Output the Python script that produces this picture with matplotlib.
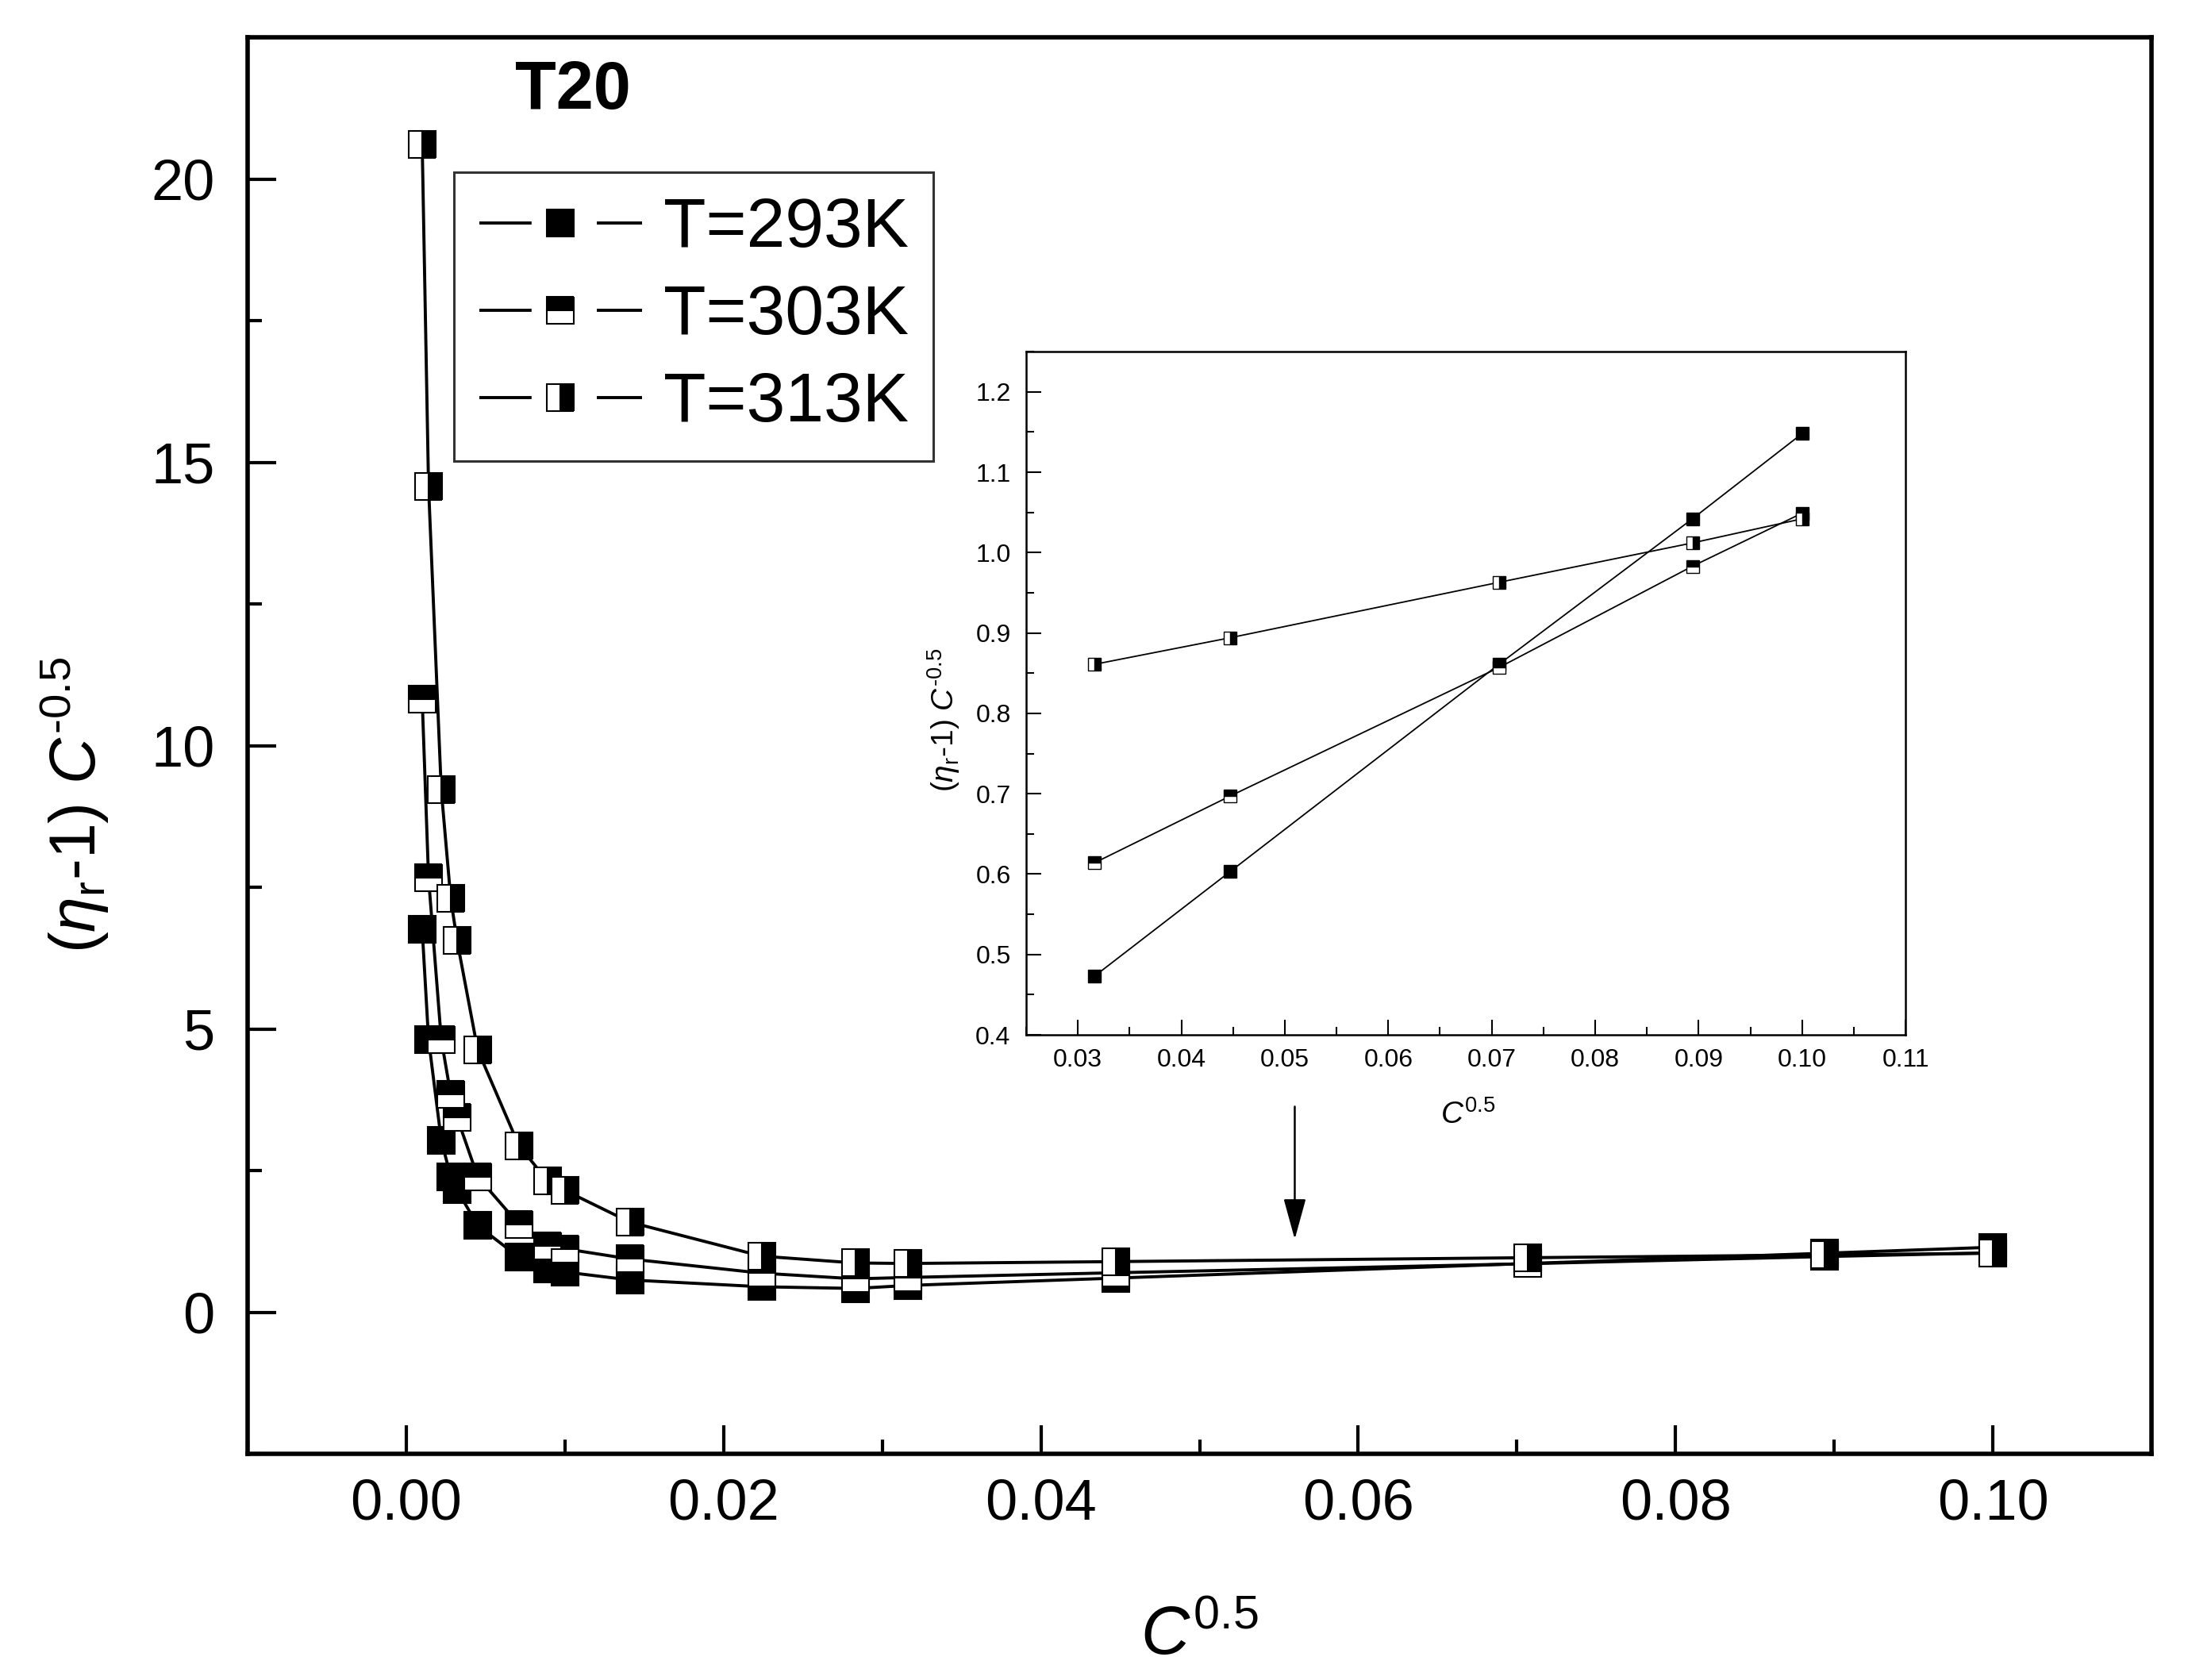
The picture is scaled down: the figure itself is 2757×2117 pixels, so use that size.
import matplotlib
matplotlib.use('Agg')
import matplotlib.pyplot as plt
from matplotlib.ticker import MultipleLocator
from matplotlib.legend_handler import HandlerLine2D

plt.rcParams['font.family'] = ['Liberation Sans', 'DejaVu Sans']
plt.rcParams['mathtext.fontset'] = 'custom'
plt.rcParams['mathtext.rm'] = 'Liberation Sans'
plt.rcParams['mathtext.it'] = 'Liberation Sans:italic'
plt.rcParams['mathtext.bf'] = 'Liberation Sans:bold'

# C^0.5 values
x_c = [0.0010, 0.0014, 0.0022, 0.0028, 0.0032, 0.0045, 0.0071, 0.0089, 0.0100,
       0.0141, 0.0224, 0.0283, 0.0316, 0.0447, 0.0707, 0.0894, 0.1000]
# (eta_r - 1) C^-0.5
y_293 = [6.76, 4.82, 3.04, 2.39, 2.16, 1.53, 0.97, 0.76, 0.71,
         0.57, 0.45, 0.42, 0.473, 0.603, 0.861, 1.042, 1.148]
y_303 = [10.82, 7.67, 4.82, 3.84, 3.44, 2.39, 1.55, 1.17, 1.12,
         0.94, 0.69, 0.59, 0.614, 0.697, 0.857, 0.983, 1.049]
y_313 = [20.62, 14.58, 9.23, 7.30, 6.56, 4.63, 2.94, 2.32, 2.15,
         1.59, 0.99, 0.87, 0.861, 0.894, 0.963, 1.012, 1.042]
labels = ['T=293K', 'T=303K', 'T=313K']
fills = ['full', 'top', 'right']
inset_start = 12  # points shown in the inset (x >= 0.03)

# short hyphen in the exponent, as in the original
ylab = '($\\eta_{\\rm r}$-1) $C^{\u20100.5}$'
xlab = r'$C^{0.5}$'


class GapHandler(HandlerLine2D):
    # Origin style legend sample: line, gap, marker, gap, line
    def create_artists(self, legend, orig_handle, xdescent, ydescent,
                       width, height, fontsize, trans):
        arts = super().create_artists(legend, orig_handle, xdescent, ydescent,
                                      width, height, fontsize, trans)
        line = arts[0]
        lw = line.get_linewidth()
        total = legend.handlelength * fontsize
        line.set_dashes((0.32 * total / lw, 0.40 * total / lw,
                         total / lw, 1.0))
        return arts


def style_axes(ax, spine_w, maj_len, min_len, tick_w, lsize, xpad, ypad):
    for s in ax.spines.values():
        s.set_linewidth(spine_w)
    ax.tick_params(which='both', direction='in', top=False, right=False,
                   width=tick_w, labelsize=lsize)
    ax.tick_params(which='major', length=maj_len)
    ax.tick_params(which='minor', length=min_len)
    ax.tick_params(axis='x', pad=xpad)
    ax.tick_params(axis='y', pad=ypad)


fig = plt.figure(figsize=(27.57, 21.17), dpi=100)
ax = fig.add_axes([0.1132, 0.1346, 0.8701, 0.8430])

for ys, lab, fs in zip([y_293, y_303, y_313], labels, fills):
    ax.plot(x_c, ys, '-', color='k', lw=2.8, marker='s', ms=24,
            fillstyle=fs, markerfacecolor='k', markerfacecoloralt='w',
            markeredgecolor='k', mew=1.5, label=lab)

ax.set_xlim(-0.01, 0.11)
ax.set_ylim(-2.5, 22.5)
ax.xaxis.set_major_locator(MultipleLocator(0.02))
ax.xaxis.set_minor_locator(MultipleLocator(0.01))
ax.yaxis.set_major_locator(MultipleLocator(5))
ax.yaxis.set_minor_locator(MultipleLocator(2.5))
ax.xaxis.set_major_formatter(plt.FormatStrFormatter('%.2f'))
style_axes(ax, 4, 26, 13, 3, 52, 22, 30)

ax.set_xlabel(xlab, fontsize=61)
ax.xaxis.set_label_coords(0.5, -0.107)
ax.set_ylabel(ylab, fontsize=58)
ax.yaxis.set_label_coords(-0.072, 0.458)

ax.text(0.1707, 0.962, 'T20', transform=ax.transAxes, fontsize=61,
        fontweight='bold', ha='center', va='center')

leg = ax.legend(loc='upper left', bbox_to_anchor=(0.1084, 0.905),
                borderaxespad=0, fancybox=False, edgecolor='k', fontsize=63,
                handlelength=2.35, handletextpad=0.3, borderpad=0.36,
                labelspacing=0.33, numpoints=1,
                handler_map={matplotlib.lines.Line2D: GapHandler()})
leg.get_frame().set_linewidth(2.2)

ax.annotate('', xy=(0.056, 1.25), xytext=(0.056, 3.67),
            arrowprops=dict(arrowstyle='-|>,head_length=0.8,head_width=0.22',
                            color='k', lw=1.8, mutation_scale=40))

# inset
axi = fig.add_axes([0.469, 0.384, 0.4019, 0.4067])
for ys, fs in zip([y_293, y_303, y_313], fills):
    axi.plot(x_c[inset_start:], ys[inset_start:], '-', color='k', lw=1.3,
             marker='s', ms=11, fillstyle=fs, markerfacecolor='k',
             markerfacecoloralt='w', markeredgecolor='k', mew=1.0)
axi.set_xlim(0.025, 0.11)
axi.set_ylim(0.4, 1.25)
axi.xaxis.set_major_locator(MultipleLocator(0.01))
axi.xaxis.set_minor_locator(MultipleLocator(0.005))
axi.yaxis.set_major_locator(MultipleLocator(0.1))
axi.yaxis.set_minor_locator(MultipleLocator(0.05))
axi.xaxis.set_major_formatter(plt.FormatStrFormatter('%.2f'))
axi.yaxis.set_major_formatter(plt.FormatStrFormatter('%.1f'))
style_axes(axi, 1.8, 13.5, 7, 1.5, 23, 12, 14)
axi.set_xlabel(xlab, fontsize=28)
axi.xaxis.set_label_coords(0.502, -0.095)
axi.set_ylabel(ylab, fontsize=28)
axi.yaxis.set_label_coords(-0.073, 0.461)

fig.savefig('out.png', dpi=100)
